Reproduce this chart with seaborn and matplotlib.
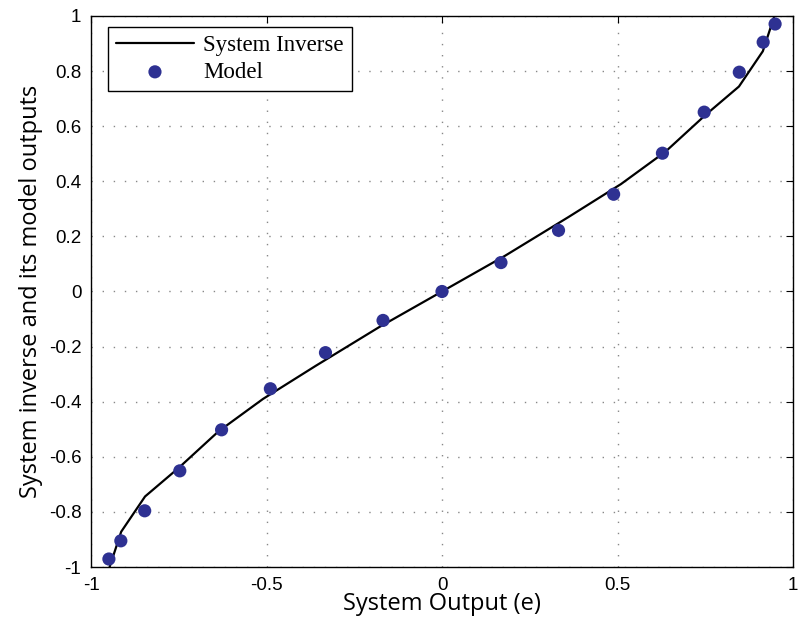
import numpy as np
import pandas as pd
import matplotlib
matplotlib.use("Agg")
import matplotlib.pyplot as plt
import seaborn as sns

# System inverse curve (nodes)
inv_x = [-0.947, -0.914, -0.846, -0.75, -0.637, -0.51, -0.36, -0.18, 0.0,
         0.18, 0.36, 0.51, 0.637, 0.75, 0.846, 0.914, 0.947]
inv_y = [-1.0, -0.872, -0.744, -0.64, -0.508, -0.39, -0.27, -0.13, 0.0,
         0.13, 0.27, 0.39, 0.508, 0.64, 0.744, 0.872, 1.0]

# Model outputs
model_x = [-0.949, -0.915, -0.847, -0.747, -0.628, -0.489, -0.332, -0.168, 0.0,
           0.168, 0.332, 0.489, 0.628, 0.747, 0.847, 0.915, 0.949]
model_y = [-0.971, -0.905, -0.796, -0.651, -0.502, -0.353, -0.222, -0.105, 0.0,
           0.105, 0.222, 0.353, 0.502, 0.651, 0.796, 0.905, 0.971]

x_ticks = [-1, -0.5, 0, 0.5, 1]
x_ticklabels = ["-1", "-0.5", "0", "0.5", "1"]
y_ticks = [-1, -0.8, -0.6, -0.4, -0.2, 0, 0.2, 0.4, 0.6, 0.8, 1]
y_ticklabels = ["-1", "-0.8", "-0.6", "-0.4", "-0.2", "0", "0.2", "0.4", "0.6", "0.8", "1"]

sns.set_style("white")
plt.rcParams['font.family'] = ['Liberation Sans', 'DejaVu Sans']
plt.rcParams['text.color'] = 'black'
plt.rcParams['axes.labelcolor'] = 'black'

fig = plt.figure(figsize=(8.02, 6.27), dpi=100)
ax = fig.add_axes([91/802, 1 - 567/627, (793-91)/802, (567-16)/627])

df_inv = pd.DataFrame({"x": inv_x, "y": inv_y})
df_mod = pd.DataFrame({"x": model_x, "y": model_y})

sns.lineplot(data=df_inv, x="x", y="y", ax=ax, color="black", linewidth=1.6,
             sort=False, label="System Inverse", estimator=None)
sns.scatterplot(data=df_mod, x="x", y="y", ax=ax, color="#2e3192", s=90,
                edgecolor="none", label="Model", zorder=3)

ax.set_xlim(-1, 1)
ax.set_ylim(-1, 1)
ax.set_xticks(x_ticks)
ax.set_xticklabels(x_ticklabels)
ax.set_yticks(y_ticks)
ax.set_yticklabels(y_ticklabels)
ax.tick_params(direction="in", length=5, width=0.8, top=True, right=True,
               labelsize=13.5, colors="black")
ax.tick_params(axis="x", pad=7)
ax.tick_params(axis="y", pad=7)
ax.grid(True, linestyle=(0, (1, 7)), color="#888888", linewidth=1.0)
for s in ax.spines.values():
    s.set_visible(True)
    s.set_color("black")
    s.set_linewidth(1.0)

ax.set_xlabel("System Output (e)", fontsize=17, family=["Open Sans", "DejaVu Sans"],
              labelpad=-1, color="black")
ax.set_ylabel("System inverse and its model outputs", fontsize=17,
              family=["Open Sans", "DejaVu Sans"], labelpad=4, color="black")

leg = ax.legend(loc="upper left", bbox_to_anchor=(0.0242, 0.980), borderaxespad=0,
                frameon=True, fancybox=False, edgecolor="black", framealpha=1,
                prop={"family": ["Liberation Serif"], "size": 16.5},
                borderpad=0.35, handlelength=3.4, labelspacing=0.25,
                handletextpad=0.4, markerscale=1.0)
leg.get_frame().set_linewidth(1.0)
for t in leg.get_texts():
    t.set_color("black")

fig.savefig("out.png", dpi=100)
